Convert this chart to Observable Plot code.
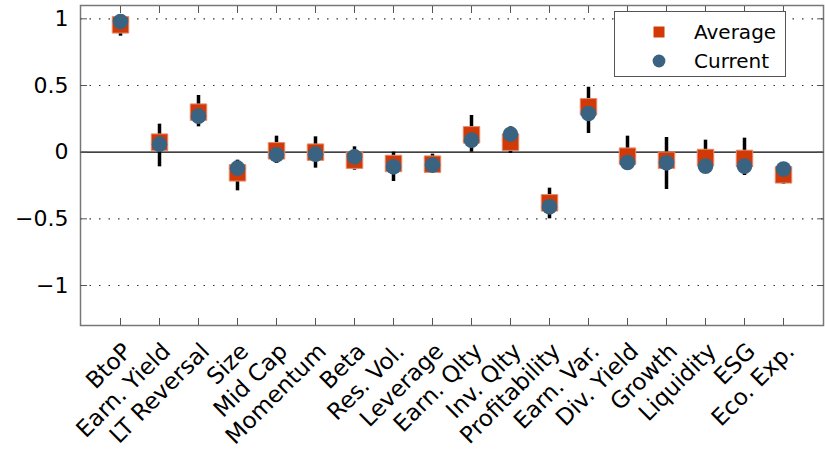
<!DOCTYPE html>
<html>
<head>
<meta charset="utf-8">
<script src="https://cdn.jsdelivr.net/npm/d3@7"></script>
<script src="https://cdn.jsdelivr.net/npm/@observablehq/plot@0.6"></script>
<style>
  html, body { margin: 0; padding: 0; background: #fff; }
  #wrap { position: relative; width: 825px; height: 450px; font-family: "DejaVu Sans", sans-serif; }
  #legend { position: absolute; left: 614px; top: 11px; width: 172px; height: 66px; border: 1px solid #555; background: #fff; box-sizing: border-box; }
  #legend .row { position: absolute; left: 0; height: 28px; display: flex; align-items: center; }
  #legend .lab { position: absolute; left: 79px; font-size: 20px; color: #000; white-space: nowrap; }
</style>
</head>
<body>
<div id="wrap"></div>
<script>
const categories = ["BtoP", "Earn. Yield", "LT Reversal", "Size", "Mid Cap", "Momentum", "Beta", "Res. Vol.", "Leverage", "Earn. Qlty", "Inv. Qlty", "Profitability", "Earn. Var.", "Div. Yield", "Growth", "Liquidity", "ESG", "Eco. Exp."];
const average = [0.955, 0.075, 0.30, -0.155, 0.01, 0.0, -0.06, -0.085, -0.09, 0.13, 0.075, -0.38, 0.34, -0.03, -0.06, -0.04, -0.047, -0.17];
const current = [0.98, 0.06, 0.27, -0.12, -0.02, -0.015, -0.035, -0.11, -0.097, 0.09, 0.135, -0.41, 0.29, -0.077, -0.08, -0.105, -0.105, -0.127];
const rangeLow = [0.87, -0.11, 0.19, -0.29, -0.085, -0.12, -0.135, -0.22, -0.15, 0.0, -0.01, -0.5, 0.14, -0.1, -0.28, -0.12, -0.175, -0.24];
const rangeHigh = [1.0, 0.21, 0.425, -0.06, 0.12, 0.115, 0.04, 0.0, -0.015, 0.275, 0.19, -0.27, 0.487, 0.12, 0.11, 0.09, 0.105, -0.1];
const yTicks = [-1, -0.5, 0, 0.5, 1];
const seriesNames = ["Average", "Current"];

const avgColor = "#d13a07";
const curColor = "#3a6381";

const data = categories.map((c, i) => ({cat: c, avg: average[i], cur: current[i], lo: rangeLow[i], hi: rangeHigh[i]}));
const fmt = d => String(d).replace("-", "\u2212");

const chart = Plot.plot({
  width: 825,
  height: 450,
  marginLeft: 80,
  marginRight: 2,
  marginTop: 5,
  marginBottom: 125,
  style: {fontFamily: "DejaVu Sans, sans-serif", background: "#fff", color: "#000"},
  x: {type: "point", domain: categories, padding: 1, label: null},
  y: {domain: [-1.3, 1.1], label: null},
  marks: [
    Plot.gridY([-1, -0.5, 0.5, 1], {stroke: "#333", strokeOpacity: 1, strokeWidth: 1.2, strokeDasharray: "1.5,8"}),
    Plot.ruleY([0], {stroke: "#000", strokeWidth: 1.2}),
    Plot.ruleX(data, {x: "cat", y1: "lo", y2: "hi", stroke: "#000", strokeWidth: 3.5}),
    Plot.dot(data, {x: "cat", y: "avg", symbol: "square", r: 9.3, fill: avgColor, stroke: "#e58a6c", strokeWidth: 1}),
    Plot.dot(data, {x: "cat", y: "cur", symbol: "circle", r: 7.8, fill: curColor}),
    Plot.frame({stroke: "#777", strokeWidth: 1.5}),
    Plot.axisY(yTicks, {anchor: "left", tickSize: 0, tickPadding: 12, tickFormat: fmt, fontSize: 22}),
    Plot.axisY(yTicks, {anchor: "left", tickSize: 7, dx: 7, text: null, stroke: "#555"}),
    Plot.axisY(yTicks, {anchor: "right", tickSize: 7, dx: -7, text: null, stroke: "#555"}),
    Plot.axisX({anchor: "bottom", tickSize: 0, tickPadding: 10, tickRotate: -45, fontSize: 23, dx: 7, dy: 12}),
    Plot.axisX({anchor: "bottom", tickSize: 7, dy: -7, text: null, stroke: "#555"}),
    Plot.axisX({anchor: "top", tickSize: 7, dy: 7, text: null, stroke: "#555"})
  ]
});

const wrap = document.getElementById("wrap");
wrap.appendChild(chart);

const legend = document.createElement("div");
legend.id = "legend";
const rows = [
  {name: seriesNames[0], svg: `<svg width="12" height="12" style="position:absolute;left:38px"><rect x="0.5" y="0.5" width="11" height="11" fill="${avgColor}"/></svg>`},
  {name: seriesNames[1], svg: `<svg width="14" height="14" style="position:absolute;left:37px"><circle cx="7" cy="7" r="6.4" fill="${curColor}"/></svg>`}
];
rows.forEach((r, i) => {
  const row = document.createElement("div");
  row.className = "row";
  row.style.top = (6 + i * 29) + "px";
  row.style.width = "170px";
  row.innerHTML = r.svg + `<span class="lab">${r.name}</span>`;
  legend.appendChild(row);
});
wrap.appendChild(legend);
</script>
</body>
</html>
